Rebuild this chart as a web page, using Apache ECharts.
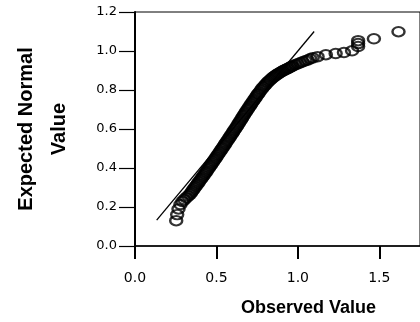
<!DOCTYPE html>
<html>
<head>
<meta charset="utf-8">
<script src="https://cdn.jsdelivr.net/npm/echarts@6/dist/echarts.min.js"></script>
<style>
  html, body { margin: 0; padding: 0; background: #fff; }
  #chart { width: 420px; height: 322px; }
</style>
</head>
<body>
<div id="chart"></div>
<script>
const observed = [
  0.253, 0.259, 0.267, 0.279, 0.291, 0.303, 0.315, 0.327,
  0.338, 0.345, 0.351, 0.358, 0.365, 0.372, 0.379, 0.386, 0.393, 0.400,
  0.407, 0.414, 0.421, 0.428, 0.435, 0.441, 0.448, 0.455, 0.461, 0.468,
  0.474, 0.481, 0.487, 0.494, 0.500, 0.507, 0.513, 0.520, 0.526, 0.533,
  0.539, 0.546, 0.552, 0.558, 0.565, 0.571, 0.578, 0.584, 0.590, 0.597,
  0.603, 0.609, 0.616, 0.622, 0.628, 0.634, 0.640, 0.646, 0.652, 0.658,
  0.664, 0.670, 0.676, 0.682, 0.689, 0.695, 0.701, 0.708, 0.714, 0.721,
  0.727, 0.734, 0.741, 0.747, 0.753,
  0.758, 0.765, 0.773, 0.780, 0.788, 0.796, 0.803, 0.811, 0.818, 0.826,
  0.833, 0.841, 0.849, 0.856, 0.864, 0.871, 0.879, 0.886, 0.894, 0.902,
  0.909, 0.917, 0.924, 0.932, 0.939, 0.947, 0.955, 0.962, 0.970, 0.985,
  1.000, 1.015, 1.030, 1.046, 1.061, 1.076, 1.091,
  1.121, 1.172, 1.232, 1.283, 1.333, 1.370, 1.370, 1.370, 1.467, 1.618
]
const expected = [
  0.130, 0.161, 0.190, 0.213, 0.228, 0.238, 0.248, 0.257,
  0.265, 0.273, 0.281, 0.289, 0.297, 0.305, 0.313, 0.321, 0.329, 0.337,
  0.345, 0.353, 0.361, 0.369, 0.377, 0.385, 0.393, 0.401, 0.409, 0.417,
  0.425, 0.433, 0.441, 0.449, 0.457, 0.465, 0.473, 0.481, 0.489, 0.497,
  0.505, 0.513, 0.521, 0.529, 0.537, 0.545, 0.553, 0.561, 0.569, 0.577,
  0.585, 0.593, 0.601, 0.609, 0.617, 0.625, 0.633, 0.641, 0.649, 0.657,
  0.665, 0.673, 0.681, 0.689, 0.697, 0.705, 0.713, 0.721, 0.729, 0.737,
  0.745, 0.753, 0.761, 0.769, 0.777,
  0.782, 0.790, 0.799, 0.807, 0.815, 0.822, 0.829, 0.836, 0.843, 0.849,
  0.854, 0.860, 0.866, 0.870, 0.875, 0.879, 0.884, 0.887, 0.891, 0.895,
  0.899, 0.902, 0.905, 0.908, 0.911, 0.914, 0.918, 0.921, 0.924, 0.930,
  0.935, 0.940, 0.945, 0.950, 0.954, 0.960, 0.965,
  0.971, 0.981, 0.987, 0.992, 1.001, 1.023, 1.038, 1.053, 1.063, 1.099
]
// diagonal reference line
const refX = [0.133, 1.10]
const refY = [0.133, 1.10]

const xTicks = [0, 0.5, 1.0, 1.5]
const yTicks = [0, 0.2, 0.4, 0.6, 0.8, 1.0, 1.2]

const points = observed.map((v, i) => [v, expected[i]])
const refLine = refX.map((v, i) => [v, refY[i]])

const chart = echarts.init(document.getElementById('chart'))
chart.setOption({
  animation: false,
  textStyle: { fontFamily: 'DejaVu Sans', color: '#000' },
  grid: {
    left: 135,
    top: 12,
    bottom: 73,
    right: -4,
    show: true,
    borderColor: '#000',
    borderWidth: 1
  },
  xAxis: {
    type: 'value',
    min: xTicks[0],
    max: 1.75,
    interval: xTicks[1] - xTicks[0],
    splitLine: { show: false },
    axisLine: { onZero: false, lineStyle: { color: '#000', width: 1.5 } },
    axisTick: { length: 13, lineStyle: { color: '#000', width: 2 } },
    axisLabel: {
      margin: 25,
      fontSize: 14,
      color: '#000',
      showMaxLabel: false,
      formatter: v => v.toFixed(1)
    },
    name: 'Observed Value',
    nameLocation: 'middle',
    nameGap: 53,
    nameTextStyle: {
      fontFamily: 'Liberation Sans',
      fontWeight: 'bold',
      fontSize: 18,
      color: '#000',
      padding: [0, 0, 0, 62]
    }
  },
  yAxis: {
    type: 'value',
    min: yTicks[0],
    max: yTicks[yTicks.length - 1],
    interval: yTicks[1] - yTicks[0],
    splitLine: { show: false },
    axisLine: { onZero: false, lineStyle: { color: '#000', width: 2 } },
    axisTick: { length: 16, lineStyle: { color: '#000', width: 1.2 } },
    axisLabel: {
      margin: 18,
      fontSize: 13,
      color: '#000',
      formatter: v => v.toFixed(1)
    },
    name: 'Expected Normal\nValue',
    nameLocation: 'middle',
    nameGap: 59,
    nameTextStyle: {
      fontFamily: 'Liberation Sans',
      fontWeight: 'bold',
      fontSize: 20,
      lineHeight: 33,
      color: '#000'
    }
  },
  series: [
    {
      type: 'line',
      data: refLine,
      symbol: 'none',
      silent: true,
      lineStyle: { color: '#000', width: 1.3 }
    },
    {
      type: 'scatter',
      data: points,
      symbol: 'circle',
      symbolSize: [12, 9.5],
      silent: true,
      itemStyle: {
        color: 'rgba(0,0,0,0)',
        borderColor: '#000',
        borderWidth: 2.2
      }
    }
  ]
})
</script>
</body>
</html>
